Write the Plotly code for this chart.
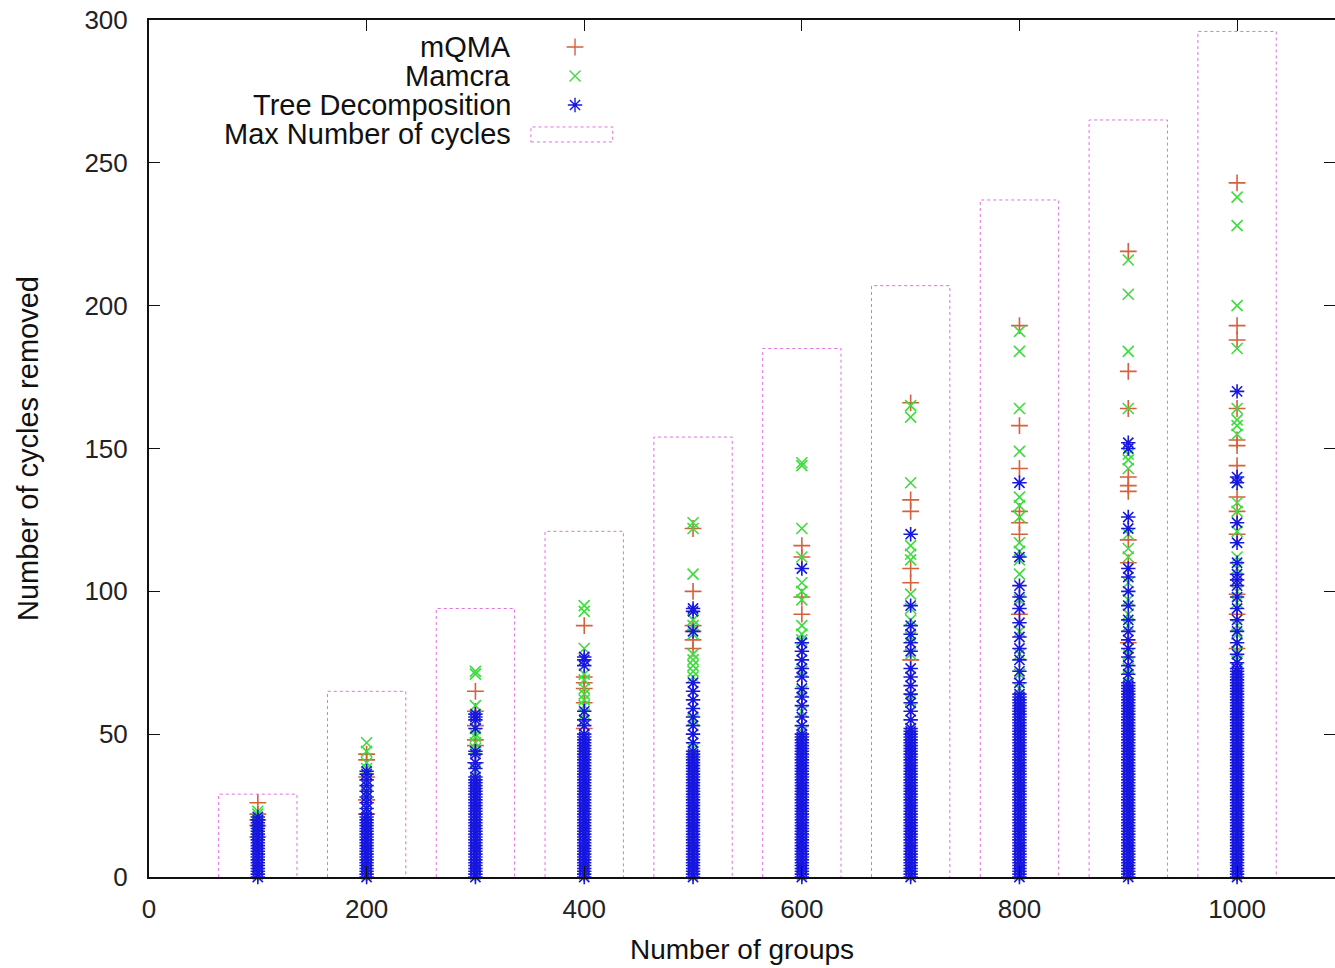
import plotly.graph_objects as go

# ---------------- data ----------------
groups = [100, 200, 300, 400, 500, 600, 700, 800, 900, 1000]
max_cycles = [29, 65, 94, 121, 154, 185, 207, 237, 265, 296]

mqma_cycles = [
    [14, 18, 20, 22, 26],
    [22, 27, 35, 41, 43],
    [40, 46, 48, 53, 58, 65],
    [52, 61, 66, 68, 70, 88],
    [80, 83, 86, 88, 100, 122],
    [92, 98, 112, 116],
    [76, 103, 108, 128, 132, 166],
    [92, 120, 124, 128, 143, 158, 193],
    [82, 110, 118, 135, 137, 140, 164, 177, 219],
    [80, 92, 99, 120, 128, 133, 144, 151, 153, 164, 188, 193, 243],
]

mamcra_cycles = [
    [12, 16, 18, 20, 22, 23],
    [24, 29, 33, 38, 40, 44, 47],
    [37, 45, 47, 49, 50, 52, 60, 71, 72],
    [57, 60, 62, 64, 66, 69, 71, 80, 93, 95],
    [45, 55, 70, 72, 74, 76, 78, 85, 88, 90, 106, 122, 124],
    [51, 58, 65, 72, 83, 85, 88, 97, 100, 103, 112, 122, 144, 145],
    [52, 62, 78, 84, 90, 94, 99, 111, 113, 116, 138, 161, 165],
    [66, 71, 78, 86, 97, 106, 111, 114, 117, 126, 130, 133, 149, 164, 184, 191],
    [70, 73, 78, 88, 92, 97, 103, 112, 115, 120, 143, 146, 148, 164, 184, 204, 216],
    [76, 79, 82, 85, 88, 96, 100, 108, 112, 121, 128, 131, 138, 155, 158, 160,
     164, 185, 200, 228, 238],
]

tree_cycles = [
    [0, 1, 2, 3, 4, 5, 6, 7, 8, 9, 10, 11, 12, 13, 14, 15, 16, 17, 18, 19, 20, 21],
    [0, 1, 2, 3, 4, 5, 6, 7, 8, 9, 10, 11, 12, 13, 14, 15, 16, 17, 18, 19, 20, 21,
     22, 24, 26, 28, 30, 32, 34, 36, 37],
    [0, 1, 2, 3, 4, 5, 6, 7, 8, 9, 10, 11, 12, 13, 14, 15, 16, 17, 18, 19, 20, 21,
     22, 23, 24, 25, 26, 27, 28, 29, 30, 31, 32, 33, 34, 35,
     38, 40, 43, 44, 52, 55, 56, 57],
    [0, 1, 2, 3, 4, 5, 6, 7, 8, 9, 10, 11, 12, 13, 14, 15, 16, 17, 18, 19, 20, 21,
     22, 23, 24, 25, 26, 27, 28, 29, 30, 31, 32, 33, 34, 35, 36, 37, 38, 39, 40,
     41, 42, 43, 44, 45, 46, 47, 48, 49, 50, 53, 55, 58, 74, 76, 77],
    [0, 1, 2, 3, 4, 5, 6, 7, 8, 9, 10, 11, 12, 13, 14, 15, 16, 17, 18, 19, 20, 21,
     22, 23, 24, 25, 26, 27, 28, 29, 30, 31, 32, 33, 34, 35, 36, 37, 38, 39, 40,
     41, 42, 43, 44, 47, 50, 53, 56, 59, 62, 65, 68, 86, 93, 94],
    [0, 1, 2, 3, 4, 5, 6, 7, 8, 9, 10, 11, 12, 13, 14, 15, 16, 17, 18, 19, 20, 21,
     22, 23, 24, 25, 26, 27, 28, 29, 30, 31, 32, 33, 34, 35, 36, 37, 38, 39, 40,
     41, 42, 43, 44, 45, 46, 47, 48, 49, 50, 53, 56, 60, 63, 66, 70, 73, 76, 79,
     82, 108],
    [0, 1, 2, 3, 4, 5, 6, 7, 8, 9, 10, 11, 12, 13, 14, 15, 16, 17, 18, 19, 20, 21,
     22, 23, 24, 25, 26, 27, 28, 29, 30, 31, 32, 33, 34, 35, 36, 37, 38, 39, 40,
     41, 42, 43, 44, 45, 46, 47, 48, 49, 50, 51, 52, 55, 58, 61, 64, 67, 70, 73,
     79, 82, 85, 88, 95, 120],
    [0, 1, 2, 3, 4, 5, 6, 7, 8, 9, 10, 11, 12, 13, 14, 15, 16, 17, 18, 19, 20, 21,
     22, 23, 24, 25, 26, 27, 28, 29, 30, 31, 32, 33, 34, 35, 36, 37, 38, 39, 40,
     41, 42, 43, 44, 45, 46, 47, 48, 49, 50, 51, 52, 53, 54, 55, 56, 57, 58, 59,
     60, 61, 62, 63, 64, 68, 72, 76, 80, 84, 89, 94, 98, 102, 112, 138],
    [0, 1, 2, 3, 4, 5, 6, 7, 8, 9, 10, 11, 12, 13, 14, 15, 16, 17, 18, 19, 20, 21,
     22, 23, 24, 25, 26, 27, 28, 29, 30, 31, 32, 33, 34, 35, 36, 37, 38, 39, 40,
     41, 42, 43, 44, 45, 46, 47, 48, 49, 50, 51, 52, 53, 54, 55, 56, 57, 58, 59,
     60, 61, 62, 63, 64, 65, 66, 67, 68, 71, 74, 77, 80, 83, 86, 90, 95, 100, 105,
     108, 122, 126, 150, 152],
    [0, 1, 2, 3, 4, 5, 6, 7, 8, 9, 10, 11, 12, 13, 14, 15, 16, 17, 18, 19, 20, 21,
     22, 23, 24, 25, 26, 27, 28, 29, 30, 31, 32, 33, 34, 35, 36, 37, 38, 39, 40,
     41, 42, 43, 44, 45, 46, 47, 48, 49, 50, 51, 52, 53, 54, 55, 56, 57, 58, 59,
     60, 61, 62, 63, 64, 65, 66, 67, 68, 69, 70, 71, 72, 73, 75, 78, 82, 86, 90,
     94, 98, 102, 104, 106, 110, 117, 124, 138, 140, 170],
]

series_names = ["mQMA", "Mamcra", "Tree Decomposition", "Max Number of cycles"]

# ---------------- styles ----------------
RED = "#d5603c"
GREEN = "#3edc3e"
BLUE = "#1717e0"
MAGENTA = "#e070e0"
FONT = "Liberation Sans"
BOX_HALF = 36


def flatten(gs, vals):
    xs, ys = [], []
    for g, v in zip(gs, vals):
        for y in v:
            xs.append(g)
            ys.append(y)
    return xs, ys


fig = go.Figure()

specs = [
    (mqma_cycles, "cross-thin-open", RED, 12),
    (mamcra_cycles, "x-thin-open", GREEN, 11),
    (tree_cycles, "asterisk-open", BLUE, 12),
]
for vals, sym, col, sz in specs:
    xs, ys = flatten(groups, vals)
    fig.add_trace(go.Scatter(
        x=xs, y=ys, mode="markers", showlegend=False, cliponaxis=False,
        marker=dict(symbol=sym, size=sz, color=col, line=dict(width=1.6, color=col)),
    ))

# max-cycles boxes (outline only, dotted)
bx, by = [], []
for g, m in zip(groups, max_cycles):
    bx += [g - BOX_HALF, g - BOX_HALF, g + BOX_HALF, g + BOX_HALF, None]
    by += [0, m, m, 0, None]
fig.add_trace(go.Scatter(x=bx, y=by, mode="lines", showlegend=False,
                         line=dict(color=MAGENTA, width=1, dash="dot")))

# ---------------- custom legend (text left, key right) ----------------
leg_rows = [0.9685, 0.9347, 0.9008, 0.8670]
leg_text_x = 0.3069
leg_key_x = 0.3592
for name, yy in zip(series_names, leg_rows):
    fig.add_annotation(xref="paper", yref="paper", x=leg_text_x, y=yy,
                       text=name, showarrow=False, xanchor="right", yanchor="middle",
                       font=dict(family=FONT, size=29, color="#111"))
for (vals, sym, col, sz), yy in zip(specs, leg_rows[:3]):
    fig.add_trace(go.Scatter(
        x=[leg_key_x], y=[yy], xaxis="x2", yaxis="y2", mode="markers",
        showlegend=False, hoverinfo="skip", cliponaxis=False,
        marker=dict(symbol=sym, size=sz, color=col, line=dict(width=1.4, color=col)),
    ))
fig.add_shape(type="rect", xref="paper", yref="paper",
              x0=0.322, x1=0.391, y0=0.8577, y1=0.8752,
              line=dict(color=MAGENTA, width=1, dash="dot"))

axis_common = dict(
    showline=True, linewidth=2, linecolor="#111", mirror="ticks",
    ticks="inside", ticklen=11, tickwidth=1, tickcolor="#111",
    showgrid=False, zeroline=False, automargin=False,
    ticklabeloverflow="allow",
    tickfont=dict(family=FONT, size=26, color="#222"),
)

fig.update_layout(
    width=1335, height=968,
    margin=dict(l=149, r=0, t=20, b=91),
    plot_bgcolor="white", paper_bgcolor="white",
    xaxis=dict(range=[0, 1090], tickvals=[0, 200, 400, 600, 800, 1000],
               ticklabelstandoff=8,
               title=dict(text="Number of groups", standoff=16,
                          font=dict(family=FONT, size=28, color="#111")),
               **axis_common),
    yaxis=dict(range=[0, 300], tickvals=[0, 50, 100, 150, 200, 250, 300],
               ticklabelstandoff=14,
               title=dict(text="Number of cycles removed", standoff=37,
                          font=dict(family=FONT, size=29, color="#111")),
               **axis_common),
    xaxis2=dict(range=[0, 1], overlaying="x", visible=False, fixedrange=True),
    yaxis2=dict(range=[0, 1], overlaying="y", visible=False, fixedrange=True),
    showlegend=False,
)

# remove the default 8px page margin so the figure fills the window exactly
fig.write_html("out.html",
               config={"displayModeBar": False},
               post_script="document.body.style.margin='0';"
                           "document.body.style.overflow='hidden';")
